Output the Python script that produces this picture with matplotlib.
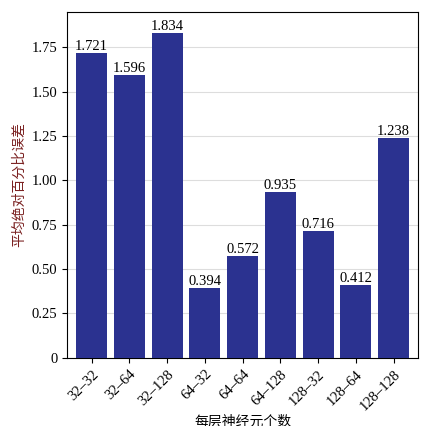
import matplotlib
matplotlib.use("Agg")
import matplotlib.pyplot as plt

categories = ["32–32", "32–64", "32–128", "64–32", "64–64", "64–128", "128–32", "128–64", "128–128"]
values = [1.721, 1.596, 1.834, 0.394, 0.572, 0.935, 0.716, 0.412, 1.238]
yticks = [0, 0.25, 0.50, 0.75, 1.00, 1.25, 1.50, 1.75]

plt.rcParams['font.family'] = ['Liberation Serif', 'Noto Sans CJK SC']
fig = plt.figure(figsize=(4.36, 4.26), dpi=100)
ax = fig.add_axes([0.154, 0.16, 0.805, 0.812])
x = range(len(categories))
ax.bar(x, values, width=0.82, color="#2b3290", zorder=3)
for xi, v in zip(x, values):
    ax.text(xi, v, f"{v:.3f}", ha="center", va="bottom", fontsize=10.5)
ax.set_ylim(0, 1.95)
ax.set_xlim(-0.65, len(categories) - 0.35)
ax.set_yticks(yticks)
ax.set_yticklabels([f"{t:.2f}" if t else "0" for t in yticks], fontsize=10.5)
ax.set_xticks(list(x))
ax.set_xticklabels(categories, rotation=45, ha="right", rotation_mode="anchor", fontsize=10.5)
ax.yaxis.grid(True, color="#dddddd", linewidth=0.8, zorder=0)
ax.set_ylabel("平均绝对百分比误差", family=['Noto Sans CJK SC'], fontsize=10, color="#7a2020")
ax.set_xlabel("每层神经元个数", family=['Noto Sans CJK SC'], fontsize=10, labelpad=1)
fig.savefig("out.png", dpi=100)
